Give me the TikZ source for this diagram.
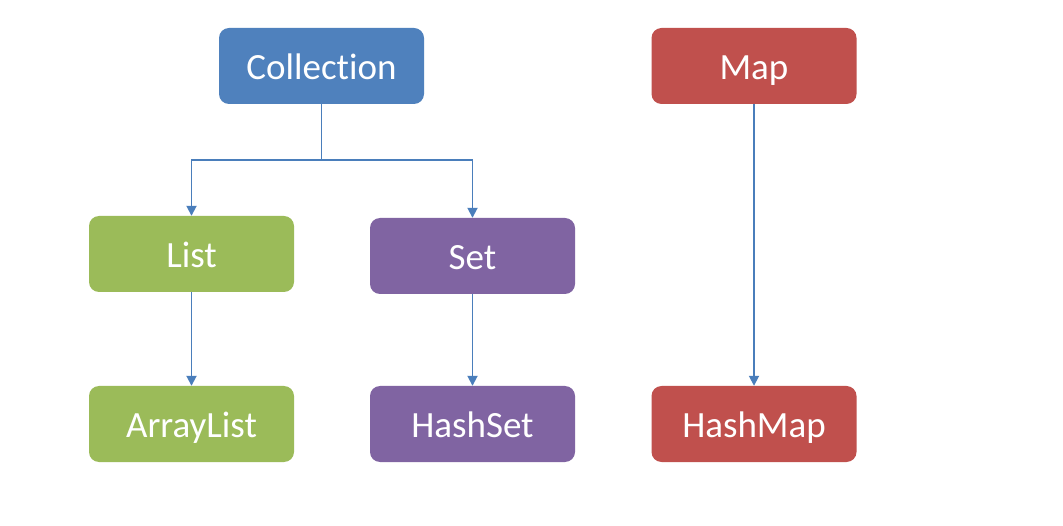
\documentclass[tikz,border=0pt]{standalone}
\usepackage{fontspec}
\setmainfont[RawFeature=-liga]{Carlito}
\usetikzlibrary{arrows.meta}
\definecolor{cblue}{HTML}{4F81BD}
\definecolor{cgreen}{HTML}{9BBB59}
\definecolor{cpurple}{HTML}{8064A2}
\definecolor{cred}{HTML}{C0504D}
\definecolor{cline}{HTML}{4A7EBB}
\begin{document}
\begin{tikzpicture}[x=1pt,y=-1pt,
  box/.style={rounded corners=10pt, minimum width=205pt, minimum height=76pt,
    inner sep=0pt, text height=36pt, text depth=8pt, text=white,
    font=\fontsize{37}{42}\selectfont},
  conn/.style={draw=cline, line width=1.8pt, -{Triangle[length=10pt,width=10pt]}}]
\useasboundingbox[fill=white] (0,0) rectangle (1063,526);
\node[box, fill=cblue] (coll) at (321.5,66) {Collection};
\node[box, fill=cred] (map) at (754,66) {Map};
\node[box, fill=cgreen] (list) at (191.5,254) {List};
\node[box, fill=cpurple] (set) at (472.5,256) {Set};
\node[box, fill=cgreen] (alist) at (191.5,424) {ArrayList};
\node[box, fill=cpurple] (hset) at (472.5,424) {HashSet};
\node[box, fill=cred] (hmap) at (754,424) {HashMap};
\coordinate (j) at (321.5,160);
\draw[conn] (coll.south) -- (j) -| (list.north);
\draw[conn] (j) -| (set.north);
\draw[conn] (list) -- (alist);
\draw[conn] (set) -- (hset);
\draw[conn] (map) -- (hmap);
\end{tikzpicture}
\end{document}
